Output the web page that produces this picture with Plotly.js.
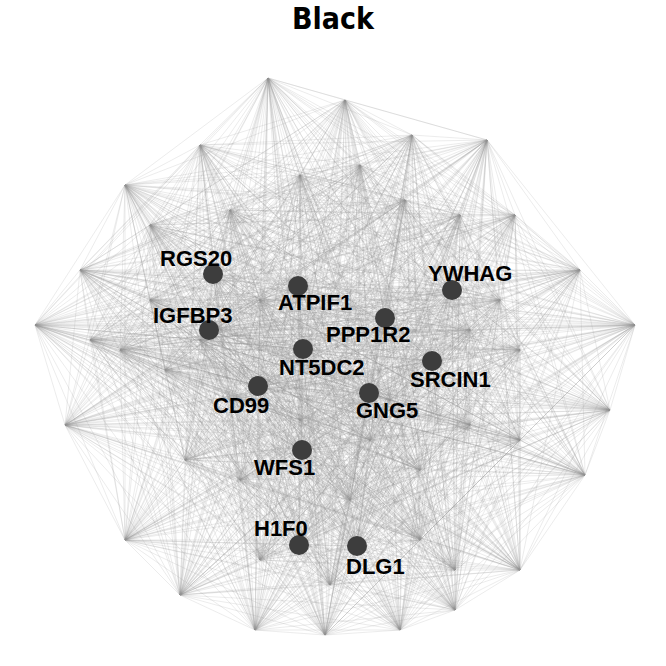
<!DOCTYPE html>
<html><head><meta charset="utf-8">
<script src="https://cdn.plot.ly/plotly-3.0.1.min.js"></script>
</head><body style="margin:0">
<div id="myDiv" style="width:666px;height:666px"></div>
<script>
// hidden nodes (outer ring + interior), in picture coordinates
var hidX = [268,345,412,487,580,635,610,585,520,455,400,325,255,180,125,65,35,80,125,200,
  300,360,405,460,515,150,230,520,470,120,165,185,240,420,470,520,350,260,420,330,455,150,90,500,390,260,300,370,230,200];
var hidY = [78,100,135,140,270,325,410,475,570,610,630,635,630,595,540,425,325,270,185,145,
  175,165,200,215,215,225,210,350,330,350,370,460,480,470,425,440,500,560,540,585,570,300,340,300,400,300,420,440,400,340];
// labelled hub genes
var genes = ['RGS20','ATPIF1','YWHAG','IGFBP3','PPP1R2','NT5DC2','SRCIN1','CD99','GNG5','WFS1','H1F0','DLG1'];
var geneX = [213,298,452,209,385,303,432,258,369,302,299,357];
var geneY = [274,286,290,330,318,349,361,386,393,450,545,546];
var labelDx = [-17,17,18,-17,-17,19,18,-17,18,-18,-18,18];
var labelDy = [-16,16,-17,-15,16,18,18,19,17,17,-17,20];

var allX = hidX.concat(geneX), allY = hidY.concat(geneY);
var data = [];
for (var i = 0; i < allX.length; i++) {
  var ex = [], ey = [];
  for (var j = i + 1; j < allX.length; j++) {
    ex.push(allX[i], allX[j], null);
    ey.push(allY[i], allY[j], null);
  }
  data.push({x: ex, y: ey, mode: 'lines', type: 'scatter', hoverinfo: 'skip',
    line: {color: 'rgba(150,150,150,0.18)', width: 1}, showlegend: false});
}
data.push({x: geneX, y: geneY, mode: 'markers', type: 'scatter', showlegend: false,
  marker: {size: 20, color: '#3d3d3d', line: {width: 0}}});

var annotations = genes.map(function (g, k) {
  return {x: geneX[k], y: geneY[k], text: '<b>' + g + '</b>', showarrow: false,
    xshift: labelDx[k], yshift: -labelDy[k],
    font: {family: 'Liberation Sans', size: 22, color: '#000'}};
});

var layout = {
  width: 666, height: 666,
  margin: {l: 0, r: 0, t: 0, b: 0},
  paper_bgcolor: 'white', plot_bgcolor: 'white',
  title: {text: '<b>Black</b>', y: 0.972, yanchor: 'middle',
    font: {family: 'DejaVu Sans Condensed, Liberation Sans', size: 30, color: '#000'}},
  xaxis: {range: [0, 666], visible: false},
  yaxis: {range: [666, 0], visible: false},
  annotations: annotations
};
Plotly.newPlot('myDiv', data, layout, {displayModeBar: false});
</script>
</body></html>
